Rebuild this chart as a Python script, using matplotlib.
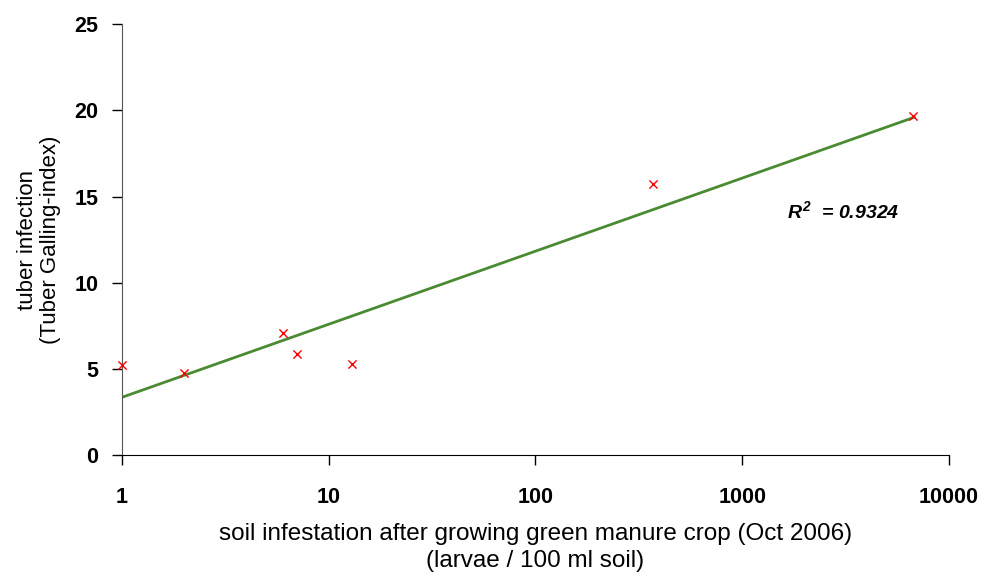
import numpy as np
import matplotlib
matplotlib.use("Agg")
import matplotlib.pyplot as plt

plt.rcParams['font.family'] = ['Liberation Sans', 'DejaVu Sans']
plt.rcParams['mathtext.fontset'] = 'custom'
plt.rcParams['mathtext.rm'] = 'Liberation Sans:bold:italic'
plt.rcParams['mathtext.it'] = 'Liberation Sans:bold:italic'
plt.rcParams['mathtext.bf'] = 'Liberation Sans:bold:italic'

# soil infestation (larvae / 100 ml soil) vs tuber galling index
larvae = [1, 2, 6, 7, 13, 370, 6700]
galling = [5.25, 4.75, 7.1, 5.85, 5.3, 15.7, 19.65]

# logarithmic trendline as drawn in the chart: y = a + b*log10(x)
trend_a = 3.35
trend_b = 4.24
trend_x = [1, 6800]
r_squared = 0.9324

x_ticks = [1, 10, 100, 1000, 10000]
x_ticklabels = ['1', '10', '100', '1000', '10000']
y_ticks = [0, 5, 10, 15, 20, 25]

fig = plt.figure(figsize=(9.88, 5.76), dpi=100)
ax = fig.add_axes([0.1235, 0.21, 0.837, 0.748])

tx = np.logspace(np.log10(trend_x[0]), np.log10(trend_x[1]), 50)
ax.plot(tx, trend_a + trend_b * np.log10(tx), color='#4a8a32', lw=2, zorder=2)
ax.scatter(larvae, galling, marker='x', color='red', s=35, linewidths=1, zorder=3, clip_on=False)

ax.set_xscale('log')
ax.set_xlim(1, 10000)
ax.set_ylim(0, 25)
ax.set_xticks(x_ticks)
ax.set_xticklabels(x_ticklabels)
ax.minorticks_off()
ax.set_yticks(y_ticks)

for s in ['top', 'right']:
    ax.spines[s].set_visible(False)
ax.spines['left'].set_color('#555555')
ax.spines['bottom'].set_color('black')
ax.tick_params(axis='both', direction='out', length=7, width=1, labelsize=15.5)
ax.tick_params(axis='x', pad=16)
ax.tick_params(axis='y', pad=10)
for lab in ax.get_xticklabels() + ax.get_yticklabels():
    lab.set_fontweight('bold')

ax.set_xlabel('soil infestation after growing green manure crop (Oct 2006)\n(larvae / 100 ml soil)',
              fontsize=17.5, labelpad=11, linespacing=1.25)
ax.set_ylabel('tuber infection\n(Tuber Galling-index)', fontsize=16, labelpad=10, linespacing=1.1)

ax.text(0.804, 0.567, f'$R^2$  = {r_squared}',
        transform=ax.transAxes, fontsize=14, fontweight='bold', fontstyle='italic',
        ha='left', va='center')

fig.savefig('out.png', dpi=100)
